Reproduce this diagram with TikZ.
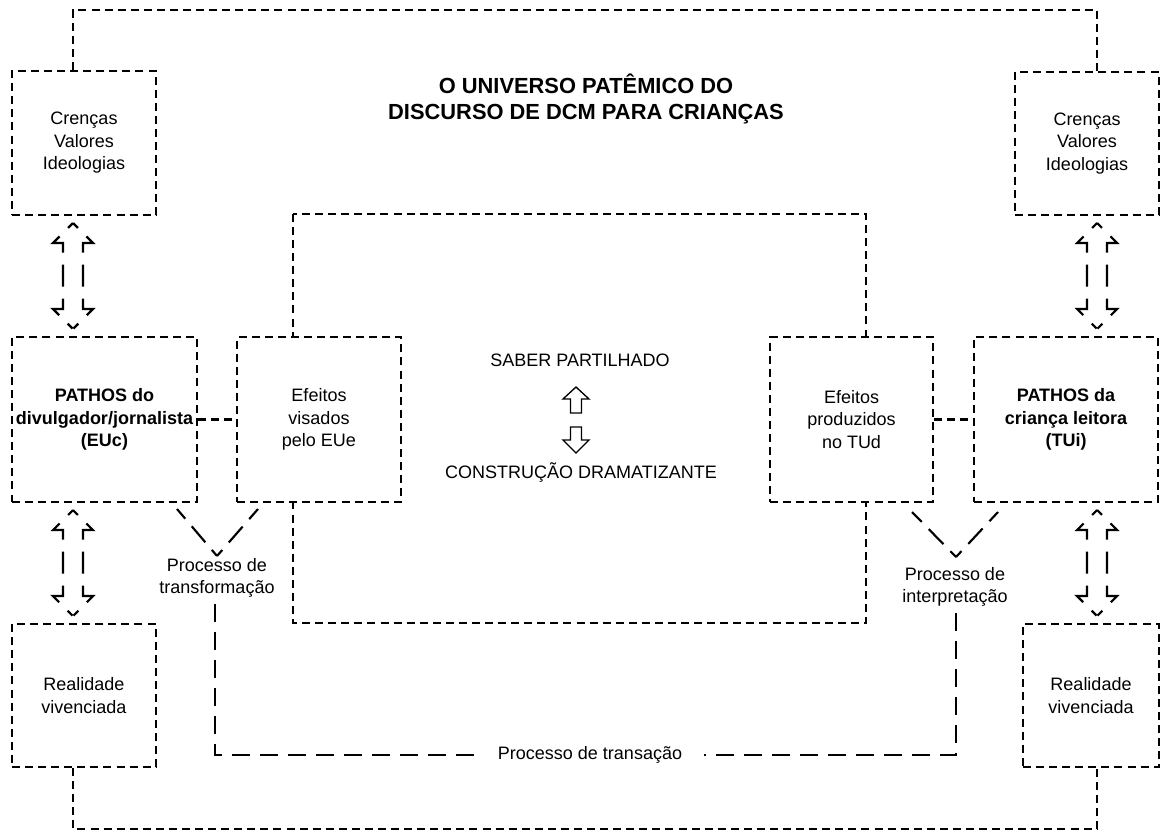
\documentclass[tikz,border=0pt]{standalone}
\usepackage{fontspec}
\setmainfont{Liberation Sans}
\usetikzlibrary{calc}
\begin{document}
\begin{tikzpicture}[x=0.75pt,y=-0.75pt,
  txt/.style={font=\fontsize{13.5}{16.9}\selectfont, align=center},
  box/.style={txt, draw, line width=1.7pt, dash pattern=on 6pt off 3.8pt,
    fill=white, inner sep=0pt},
  frame/.style={line width=1.7pt, dash pattern=on 6pt off 3.8pt},
  longdash/.style={line width=1.6pt, dash pattern=on 14pt off 7pt},
  vline/.style={line width=1.6pt, dash pattern=on 15.75pt off 7.5pt, dash phase=9.75pt},
  arrowline/.style={line width=1.6pt, line join=miter,
    dash pattern=on 5.25pt off 9pt on 21.75pt off 9pt on 16.5pt off 9pt on 21.75pt off 9pt on 5.25pt off 60pt},
  solidarrow/.style={line width=1pt, line join=miter},
  dblarrow/.pic={
    % each side runs from the upper tip to the lower tip
    \draw[arrowline] (0,-53) -- ++(20,20) -- ++(-10,0) -- ++(0,66) -- ++(10,0) -- (0,53);
    \draw[arrowline] (0,-53) -- ++(-20,20) -- ++(10,0) -- ++(0,66) -- ++(-10,0) -- (0,53);
  }]
\useasboundingbox (0,0) rectangle (1162,832);

% central frame behind the effect boxes
\draw[frame] (293,214) rectangle (866,623);

% title
\node[font=\fontsize{16.4}{19.5}\selectfont\bfseries, align=center] (title) at (586,99)
  {O UNIVERSO PATÊMICO DO\\DISCURSO DE DCM PARA CRIANÇAS};

% boxes
\node[box, minimum width=108pt, minimum height=108pt] (c1) at (84,143)
  {Crenças\\Valores\\Ideologias};
\node[box, minimum width=108pt, minimum height=107.25pt] (c2) at (1087,143.5)
  {Crenças\\Valores\\Ideologias};
\node[box, minimum width=138.75pt, minimum height=123.75pt] (p1) at (104.5,419.5)
  {\bfseries PATHOS do\\\bfseries divulgador/jornalista\\\bfseries (EUc)};
\node[box, minimum width=123pt, minimum height=123.75pt] (e1) at (319,419.5)
  {Efeitos\\visados\\pelo EUe};
\node[box, minimum width=122.25pt, minimum height=123.75pt] (e2) at (851.5,419.5)
  {Efeitos\\produzidos\\no TUd};
\node[box, minimum width=138pt, minimum height=123.75pt] (p2) at (1066,419.5)
  {\bfseries PATHOS da\\\bfseries criança leitora\\\bfseries (TUi)};
\node[box, minimum width=108pt, minimum height=107.25pt] (r1) at (84,695.5)
  {Realidade\\vivenciada};
\node[box, minimum width=102pt, minimum height=107.25pt] (r2) at (1091,695.5)
  {Realidade\\vivenciada};

% outer frame joining both sides
\coordinate (fxL) at (73,0);
\coordinate (fxR) at (1097,0);
\coordinate (ftop) at (0,10);
\coordinate (fbot) at (0,829);
\draw[frame] (fxL |- c1.north) -- (fxL |- ftop) -- (fxR |- ftop) -- (fxR |- c2.north);
\draw[frame] (fxL |- r1.south) -- (fxL |- fbot) -- (fxR |- fbot) -- (fxR |- r2.south);

% links between pathos and effects
\draw[frame] (p1.east) -- (e1.west);
\draw[frame] (e2.east) -- (p2.west);

% hollow two-way arrows
\pic at ($(fxL |- c1.south)!0.5!(fxL |- p1.north)$) {dblarrow};
\pic at ($(fxL |- p1.south)!0.5!(fxL |- r1.north)$) {dblarrow};
\pic at ($(fxR |- c2.south)!0.5!(fxR |- p2.north)$) {dblarrow};
\pic at ($(fxR |- p2.south)!0.5!(fxR |- r2.north)$) {dblarrow};

% shared knowledge and dramatizing construction
\node[txt] (saber) at (580,360) {SABER PARTILHADO};
\node[txt] (constr) at (581,472) {CONSTRUÇÃO DRAMATIZANTE};
\coordinate (mid) at (576,420);
\draw[solidarrow] ($(mid)+(0,-33)$) -- ++(13,12) -- ++(-7.5,0) -- ++(0,14) -- ++(-11,0)
  -- ++(0,-14) -- ++(-7.5,0) -- cycle;
\draw[solidarrow] ($(mid)+(0,33)$) -- ++(13,-13) -- ++(-7.5,0) -- ++(0,-13) -- ++(-11,0)
  -- ++(0,13) -- ++(-7.5,0) -- cycle;

% transformation and interpretation processes
\node[txt, inner sep=2pt] (ptrans) at (217,578) {Processo de\\transformação};
\node[txt, inner sep=2pt] (pinterp) at (955,587) {Processo de\\interpretação};
\coordinate (vL) at (217,556);
\coordinate (vR) at (956,557);
\draw[vline] (vL) -- (177,509);
\draw[vline] (vL) -- (258,509);
\draw[vline] (vR) -- (912,512);
\draw[vline] (vR) -- (998,512);

% transaction process
\node[txt, inner xsep=16pt] (trans) at (590,755) {Processo de transação};
\draw[longdash] ($(ptrans.south)+(-2,3)$) |- (trans.west);
\draw[longdash] ($(pinterp.south)+(1,3)$) |- (trans.east);
\end{tikzpicture}
\end{document}
